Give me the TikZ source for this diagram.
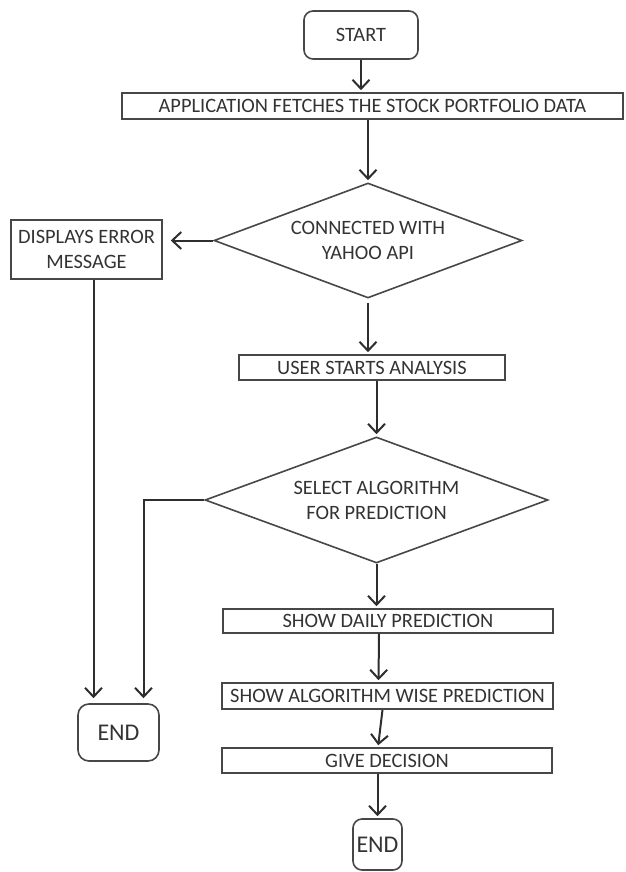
\documentclass[tikz,border=0pt]{standalone}
\usepackage{fontspec}
\setmainfont{Carlito}
\usetikzlibrary{arrows.meta,shapes.geometric}
\tikzset{
  box/.style={draw=black!72, line width=1.6pt, align=center, text=black!80,
              font=\fontsize{20.4}{25}\selectfont, inner sep=0pt},
  proc/.style={box},
  term/.style={box, rounded corners=9pt},
  cond/.style={box, diamond, aspect=2.7},
  flow/.style={-{Straight Barb[length=9pt,width=17pt,line width=2pt]},
               line width=2pt, black!82, shorten >=2pt},
}

\begin{document}
\begin{tikzpicture}[x=1pt, y=-1pt]
  \useasboundingbox (0,0) rectangle (625,872);
  % main column
  \node[term, minimum width=114pt, minimum height=48pt] (start) at (361,35) {START};
  \node[proc, minimum width=501pt, minimum height=26pt] (fetch) at (372.5,106)
    {APPLICATION FETCHES THE STOCK PORTFOLIO DATA};
  \node[cond, minimum width=308pt, minimum height=115pt] (conn) at (368,240.5)
    {CONNECTED WITH\\YAHOO API};
  \node[proc, minimum width=266pt, minimum height=25pt] (user) at (372,367.5)
    {USER STARTS ANALYSIS};
  \node[cond, minimum width=343pt, minimum height=126pt] (algo) at (376.5,500)
    {SELECT ALGORITHM\\FOR PREDICTION};
  \node[proc, minimum width=330pt, minimum height=24pt] (daily) at (388,621)
    {SHOW DAILY PREDICTION};
  \node[proc, minimum width=331pt, minimum height=26pt] (wise) at (387.5,696)
    {SHOW ALGORITHM WISE PREDICTION};
  \node[proc, minimum width=330pt, minimum height=25pt] (decide) at (387,760.5)
    {GIVE DECISION};
  \node[term, font=\fontsize{24}{28}\selectfont, minimum width=49pt, minimum height=51pt]
    (endr) at (377.5,844.5) {END};
  % error branch
  \node[proc, minimum width=151pt, minimum height=59pt] (err) at (86.5,249.5)
    {DISPLAYS ERROR\\MESSAGE};
  \node[term, rounded corners=11pt, font=\fontsize{24}{28}\selectfont,
        minimum width=81pt, minimum height=57pt] (endl) at (118.5,732.5) {END};
  \coordinate (inl) at ([xshift=-25pt]endl.north);
  \coordinate (inr) at ([xshift=25pt]endl.north);

  \draw[flow] (start) -- (start |- fetch.north);
  \draw[flow] (conn |- fetch.south) -- (conn.north);
  \draw[flow, shorten >=8pt] (conn.west) -- (conn.west -| err.east);
  \draw[flow, shorten <=4pt] (conn.south) -- (conn.south |- user.north);
  \draw[flow] (algo |- user.south) -- (algo.north);
  \draw[flow] (algo.south) -- (algo.south |- daily.north);
  \draw[flow] ([xshift=-9pt]daily.south) -- ([xshift=-9pt]wise.north);
  \draw[flow] ([xshift=-5pt]wise.south) -- ([xshift=-9pt]decide.north);
  \draw[flow] (endr |- decide.south) -- (endr.north);
  \draw[flow, shorten >=5pt] (inl |- err.south) -- (inl);
  \draw[flow, shorten >=5pt] (algo.west) -| (inr);
\end{tikzpicture}
\end{document}
